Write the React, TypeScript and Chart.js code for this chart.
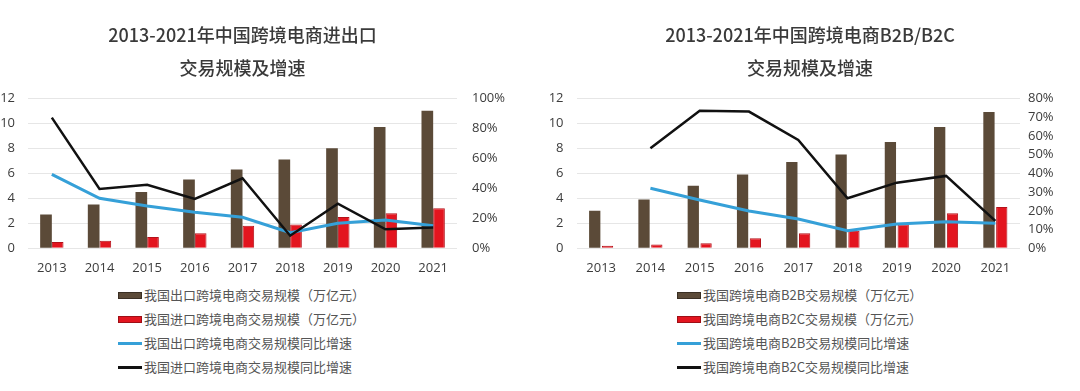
import React, { useEffect, useRef } from "react";
import { Chart, registerables } from "chart.js";

Chart.register(...registerables);

const years = ["2013", "2014", "2015", "2016", "2017", "2018", "2019", "2020", "2021"];

// Left chart: export / import
const exportScale = [2.7, 3.5, 4.5, 5.5, 6.3, 7.1, 8.0, 9.7, 11.0];
const importScale = [0.5, 0.6, 0.9, 1.2, 1.8, 1.9, 2.5, 2.8, 3.2];
const exportGrowth = [49.3, 33.3, 28.2, 24.0, 20.7, 10.4, 16.7, 18.9, 15.1];
const importGrowth = [87.1, 39.6, 42.4, 32.9, 46.7, 8.4, 29.8, 12.7, 13.8];
const leftLabels = [
  "我国出口跨境电商交易规模（万亿元）",
  "我国进口跨境电商交易规模（万亿元）",
  "我国出口跨境电商交易规模同比增速",
  "我国进口跨境电商交易规模同比增速",
];
const leftTitle = ["2013-2021年中国跨境电商进出口", "交易规模及增速"];

// Right chart: B2B / B2C
const b2bScale = [3.0, 3.9, 5.0, 5.9, 6.9, 7.5, 8.5, 9.7, 10.9];
const b2cScale = [0.2, 0.3, 0.4, 0.8, 1.2, 1.4, 1.9, 2.8, 3.3];
const b2bGrowth = [null, 32.0, 25.8, 19.9, 15.6, 9.4, 13.0, 14.2, 13.3];
const b2cGrowth = [null, 53.3, 73.4, 72.9, 57.8, 26.7, 35.0, 38.6, 14.6];
const rightLabels = [
  "我国跨境电商B2B交易规模（万亿元）",
  "我国跨境电商B2C交易规模（万亿元）",
  "我国跨境电商B2B交易规模同比增速",
  "我国跨境电商B2C交易规模同比增速",
];
const rightTitle = ["2013-2021年中国跨境电商B2B/B2C", "交易规模及增速"];

const BROWN = "#5b4a38";
const RED = "#e3151f";
const BLUE = "#35a0d8";
const BLACK = "#111111";
const TICK_FONT = { family: "'Open Sans', sans-serif", size: 13 };
const TICK_COLOR = "#3c3c3c";

const CANVAS_W = 540;
const CANVAS_H = 280;

function makeConfig(o: any): any {
  return {
    type: "bar",
    data: {
      labels: years,
      datasets: [
        {
          type: "bar",
          label: o.labels[0],
          data: o.bar1,
          yAxisID: "y",
          backgroundColor: BROWN,
          order: 2,
          categoryPercentage: o.catPct,
          barPercentage: o.barPct,
        },
        {
          type: "bar",
          label: o.labels[1],
          data: o.bar2,
          yAxisID: "y",
          backgroundColor: RED,
          borderColor: "#b3121a",
          borderWidth: 1,
          order: 2,
          categoryPercentage: o.catPct,
          barPercentage: o.barPct,
        },
        {
          type: "line",
          label: o.labels[2],
          data: o.line1,
          yAxisID: "y1",
          borderColor: BLUE,
          borderWidth: 3,
          pointRadius: 0,
          tension: 0,
          order: 1,
        },
        {
          type: "line",
          label: o.labels[3],
          data: o.line2,
          yAxisID: "y1",
          borderColor: BLACK,
          borderWidth: 2.5,
          pointRadius: 0,
          tension: 0,
          order: 0,
        },
      ],
    },
    options: {
      responsive: false,
      animation: false,
      layout: { padding: 0 },
      plugins: {
        legend: { display: false },
        tooltip: { enabled: false },
        title: {
          display: true,
          text: o.title,
          fullSize: o.titleFull,
          color: "#3a3a3a",
          font: { family: "'Noto Sans CJK SC', sans-serif", size: 18, weight: "500", lineHeight: 33 / 18 },
          padding: { top: 18.5, bottom: 13.8 },
        },
      },
      scales: {
        x: {
          offset: true,
          grid: { display: false },
          border: { display: false },
          ticks: { font: TICK_FONT, color: TICK_COLOR, padding: 4 },
          afterFit: (s: any) => {
            s.height = CANVAS_H - 248.3;
          },
        },
        y: {
          position: "left",
          min: 0,
          max: 12,
          ticks: { stepSize: 2, font: TICK_FONT, color: TICK_COLOR, padding: o.leftPad },
          grid: { color: "#e6e6e6", lineWidth: 1, drawTicks: false },
          border: { display: false },
          afterFit: (s: any) => {
            s.width = o.leftW;
          },
        },
        y1: {
          position: "right",
          min: 0,
          max: o.y1Max,
          ticks: {
            stepSize: o.y1Step,
            font: TICK_FONT,
            color: TICK_COLOR,
            padding: o.rightPad,
            callback: (v: any) => v + "%",
          },
          grid: { display: false, drawTicks: false },
          border: { display: false },
          afterFit: (s: any) => {
            s.width = CANVAS_W - o.rightEdge;
          },
        },
      },
    },
  };
}

function ChartCanvas({ cfg }: { cfg: any }) {
  const ref = useRef<HTMLCanvasElement>(null);
  useEffect(() => {
    if (!ref.current) return;
    const chart = new Chart(ref.current, cfg);
    return () => chart.destroy();
  }, []);
  return <canvas ref={ref} width={CANVAS_W} height={CANVAS_H} style={{ display: "block", width: CANVAS_W, height: CANVAS_H }} />;
}

function Legend({ labels, left }: { labels: string[]; left: number }) {
  const markers = [
    { h: 7, bg: BROWN, border: "1px solid #3a2f24" },
    { h: 7, bg: RED, border: "1px solid #9e0f16" },
    { h: 3, bg: BLUE, border: "none" },
    { h: 3, bg: BLACK, border: "none" },
  ];
  return (
    <div style={{ position: "absolute", left, top: 283 }}>
      {labels.map((t, i) => (
        <div key={i} style={{ display: "flex", alignItems: "center", height: 24 }}>
          <div
            style={{
              width: 24,
              height: markers[i].h,
              background: markers[i].bg,
              border: markers[i].border,
              boxSizing: "border-box",
              marginRight: 2,
            }}
          />
          <span
            style={{
              fontFamily: "'Noto Sans CJK SC', sans-serif",
              fontSize: 13,
              color: "#555555",
              whiteSpace: "nowrap",
              lineHeight: "24px",
            }}
          >
            {t}
          </span>
        </div>
      ))}
    </div>
  );
}

export default function App() {
  const leftCfg = makeConfig({
    labels: leftLabels,
    bar1: exportScale,
    bar2: importScale,
    line1: exportGrowth,
    line2: importGrowth,
    title: leftTitle,
    titleFull: false,
    y1Max: 100,
    y1Step: 20,
    leftW: 28,
    leftPad: 13,
    rightEdge: 457,
    rightPad: 15,
    catPct: 0.49,
    barPct: 1,
  });
  const rightCfg = makeConfig({
    labels: rightLabels,
    bar1: b2bScale,
    bar2: b2cScale,
    line1: b2bGrowth,
    line2: b2cGrowth,
    title: rightTitle,
    titleFull: true,
    y1Max: 80,
    y1Step: 10,
    leftW: 36.5,
    leftPad: 13,
    rightEdge: 480,
    rightPad: 8,
    catPct: 0.52,
    barPct: 0.88,
  });
  return (
    <div style={{ position: "fixed", left: 0, top: 0, width: 1080, height: 391, background: "#ffffff", overflow: "hidden" }}>
      <div style={{ position: "absolute", left: 0, top: 0 }}>
        <ChartCanvas cfg={leftCfg} />
      </div>
      <div style={{ position: "absolute", left: 540, top: 0 }}>
        <ChartCanvas cfg={rightCfg} />
      </div>
      <Legend labels={leftLabels} left={118} />
      <Legend labels={rightLabels} left={677} />
    </div>
  );
}
